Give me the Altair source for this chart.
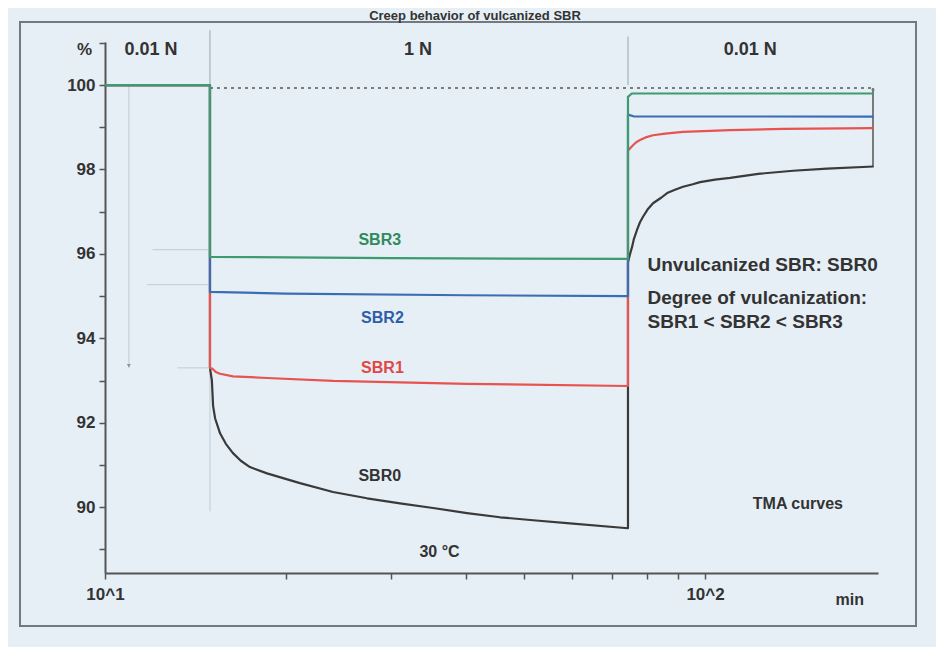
import altair as alt
import pandas as pd

# ---- data (time in min, relative length in %) ----
sbr0_t = [10, 14.96, 14.96, 15.07, 15.14, 15.26, 15.55, 15.9, 16.34, 16.84, 17.44, 18.62, 21.13,
          23.99, 27.33, 31.02, 35.22, 40.12, 45.53, 51.69, 58.88, 74.4,
          74.4, 75.0, 75.56, 76.1, 77.03, 77.9, 78.82, 80.2, 81.9, 84.5, 86.46, 89.1, 91.9, 95.4,
          98.1, 103.9, 110.1, 123.5, 140.2, 159.7, 191]
sbr0_v = [100, 100, 93.3, 93.0, 92.4, 92.1, 91.75, 91.5, 91.28, 91.1, 90.95, 90.8, 90.57,
          90.36, 90.21, 90.09, 89.98, 89.86, 89.76, 89.69, 89.62, 89.5,
          95.8, 96.0, 96.16, 96.35, 96.57, 96.75, 96.88, 97.05, 97.2, 97.33, 97.44, 97.52, 97.59,
          97.65, 97.7, 97.76, 97.8, 97.9, 97.97, 98.02, 98.07]

sbr1_t = [10, 14.96, 14.96, 15.1, 15.3, 15.55, 16.34, 18.62, 23.99, 40.12, 74.4,
          74.4, 75.0, 75.56, 76.7, 77.93, 79.6, 81.9, 85.8, 91.9, 110.1, 135.0, 191]
sbr1_v = [100, 100, 93.3, 93.28, 93.2, 93.16, 93.1, 93.06, 92.99, 92.92, 92.87,
          98.45, 98.5, 98.55, 98.64, 98.7, 98.76, 98.81, 98.85, 98.89, 98.93, 98.96, 98.98]

sbr2_t = [10, 14.96, 14.96, 20, 40, 74.4, 74.4, 76, 191]
sbr2_v = [100, 100, 95.1, 95.06, 95.02, 95.0, 99.3, 99.26, 99.25]

sbr3_t = [10, 14.96, 14.96, 30, 74.4, 74.4, 75.5, 191]
sbr3_v = [100, 100, 95.93, 95.9, 95.88, 99.72, 99.8, 99.8]

series_names = ["SBR0", "SBR1", "SBR2", "SBR3"]
series_colors = ["#3a3a3a", "#e8524f", "#3b6db3", "#3f9a70"]

t_load = 14.96
t_unload = 74.4
t_end = 191

y_ticks = [89, 90, 91, 92, 93, 94, 95, 96, 97, 98, 99, 100, 101]
x_ticks = [10, 20, 30, 40, 50, 60, 70, 80, 90, 100]

ann_text = ["%", "0.01 N", "1 N", "0.01 N", "SBR3", "SBR2", "SBR1", "SBR0", "30 °C",
            "Unvulcanized SBR: SBR0", "Degree of vulcanization:", "SBR1 < SBR2 < SBR3",
            "TMA curves", "min"]
ann_t = [9.25, 11.93, 33.24, 118.9, 28.7, 29.0, 29.0, 28.7, 36.1, 80.2, 80.2, 80.2, 142.8, 174.2]
ann_v = [100.83, 100.83, 100.83, 100.83, 96.33, 94.48, 93.29, 90.73, 88.93, 95.73, 94.95, 94.38,
         90.07, 87.8]
ann_color = ["#333333", "#333333", "#333333", "#333333", "#2f8a5c", "#2f5ea8", "#e04848",
             "#333333", "#333333", "#333333", "#333333", "#333333", "#333333", "#333333"]
ann_size = [17, 18, 18, 18, 16, 16, 16, 16, 16, 19, 19, 19, 16, 16]
ann_align = ["center", "center", "center", "center", "center", "center", "center", "center",
             "center", "left", "left", "left", "center", "center"]

FONT = "Liberation Sans"
Y_DOM = [88.44, 101.02]
X_DOM = [10, 194.2]

xs = alt.Scale(type="log", domain=X_DOM, nice=False)
ys = alt.Scale(domain=Y_DOM, nice=False, zero=False)

x_axis = alt.Axis(values=x_ticks, title=None, grid=False, tickSize=6, tickWidth=1.5,
                  tickColor="#555", domainColor="#555", domainWidth=2, labelFlush=False,
                  labelExpr="datum.value == 10 ? '10^1' : (datum.value == 100 ? '10^2' : '')",
                  labelFont=FONT, labelFontWeight="bold", labelFontSize=17, labelColor="#333",
                  labelPadding=7)
y_axis = alt.Axis(values=y_ticks, title=None, grid=False, tickSize=6, tickWidth=1.5,
                  tickColor="#555", domainColor="#555", domainWidth=2,
                  labelExpr="(datum.value % 2 == 0 && datum.value <= 100) ? datum.label : ''",
                  labelFont=FONT, labelFontWeight="bold", labelFontSize=17, labelColor="#333",
                  labelPadding=4)

# ---- frame and title ----
one = pd.DataFrame({"a": [0]})
frame = alt.Chart(one).mark_rect(fillOpacity=0, stroke="#707a80", strokeWidth=2).encode(
    x=alt.value(-85), x2=alt.value(811), y=alt.value(-20), y2=alt.value(584))

title = alt.Chart(one).mark_text(text="Creep behavior of vulcanized SBR", font=FONT,
                                 fontWeight="bold", fontSize=13, color="#333",
                                 baseline="alphabetic").encode(
    x=alt.value(370), y=alt.value(-22))

# ---- guide lines ----
guides = pd.DataFrame({
    "t": [t_load, 12.0, 11.75, 13.2, 10.96],
    "t2": [t_load, 14.86, 14.86, 14.86, 10.96],
    "v": [89.9, 96.1, 95.27, 93.3, 100],
    "v2": [93.3, 96.1, 95.27, 93.3, 93.3],
})
faint = alt.Chart(guides).mark_rule(color="#bfcbd3", strokeWidth=1).encode(
    x=alt.X("t:Q", scale=xs, axis=x_axis), x2="t2", y=alt.Y("v:Q", scale=ys, axis=y_axis), y2="v2")

dividers = pd.DataFrame({"t": [t_load, t_unload], "v": [100, 100], "v2": [101.3, 101.15]})
div = alt.Chart(dividers).mark_rule(color="#9aa6ad", strokeWidth=1).encode(
    x=alt.X("t:Q", scale=xs), y=alt.Y("v:Q", scale=ys), y2="v2")

dotted = alt.Chart(pd.DataFrame({"t": [t_load], "t2": [t_end], "v": [99.93]})).mark_rule(
    color="#555", strokeWidth=1.6, strokeDash=[3, 4]).encode(
    x=alt.X("t:Q", scale=xs), x2="t2", y=alt.Y("v:Q", scale=ys))

right_bar = alt.Chart(pd.DataFrame({"t": [190.5], "v": [98.07], "v2": [99.93]})).mark_rule(
    color="#555", strokeWidth=1.5).encode(
    x=alt.X("t:Q", scale=xs), y=alt.Y("v:Q", scale=ys), y2="v2")

arrows = alt.Chart(pd.DataFrame({"t": [10.96, 190.5], "v": [93.35, 99.86]})).mark_point(
    shape="triangle-down", filled=True, size=18, color="#777").encode(
    x=alt.X("t:Q", scale=xs), y=alt.Y("v:Q", scale=ys))

# ---- curves ----
curve_t = [sbr0_t, sbr1_t, sbr2_t, sbr3_t]
curve_v = [sbr0_v, sbr1_v, sbr2_v, sbr3_v]
curves = []
for name, col, tt, vv in zip(series_names, series_colors, curve_t, curve_v):
    df = pd.DataFrame({"t": tt, "v": vv, "i": list(range(len(tt))), "s": name})
    curves.append(alt.Chart(df).mark_line(color=col, strokeWidth=2.2, strokeJoin="round").encode(
        x=alt.X("t:Q", scale=xs), y=alt.Y("v:Q", scale=ys), order="i:Q"))

# ---- annotations ----
ann = pd.DataFrame({"t": ann_t, "v": ann_v, "txt": ann_text, "c": ann_color, "al": ann_align,
                    "fs": ann_size})
ann_c = alt.Chart(ann[ann.al == "center"]).mark_text(font=FONT, fontWeight="bold",
                                                     align="center", baseline="middle").encode(
    x=alt.X("t:Q", scale=xs), y=alt.Y("v:Q", scale=ys), text="txt:N",
    color=alt.Color("c:N", scale=None), size=alt.Size("fs:Q", scale=None))
ann_l = alt.Chart(ann[ann.al == "left"]).mark_text(font=FONT, fontWeight="bold",
                                                   align="left", baseline="middle").encode(
    x=alt.X("t:Q", scale=xs), y=alt.Y("v:Q", scale=ys), text="txt:N",
    color=alt.Color("c:N", scale=None), size=alt.Size("fs:Q", scale=None))

chart = alt.layer(faint, div, dotted, right_bar, arrows, *curves, ann_c, ann_l, frame, title).properties(
    width=773, height=531,
    autosize=alt.AutoSizeParams(type="none"),
    padding={"left": 97, "top": 34, "right": 58, "bottom": 74},
    background="#e6eff6",
).configure_view(stroke=None)

chart.save("out.html", embed_options={"renderer": "svg", "actions": False})
